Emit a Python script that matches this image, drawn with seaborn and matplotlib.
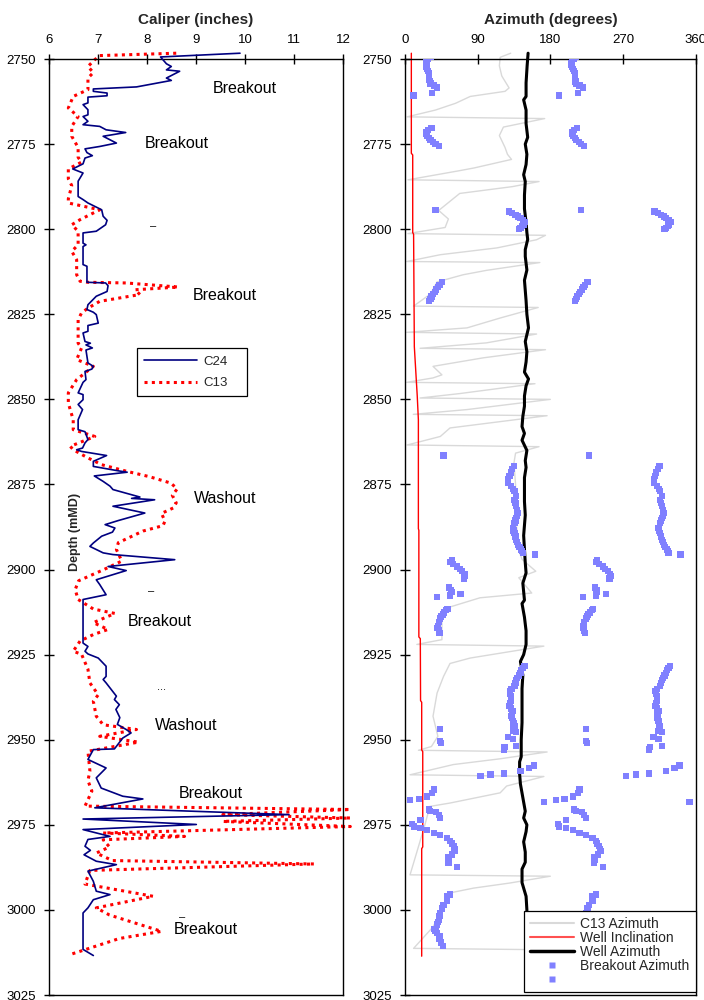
import matplotlib
matplotlib.use("Agg")
import matplotlib.pyplot as plt
import seaborn as sns
import pandas as pd
from matplotlib.lines import Line2D

# ---------------- data ----------------
c24_depth = [
    2748.3, 2749.4, 2751.4, 2752.2, 2753.2, 2753.6, 2755.6, 2756.3, 2758.2, 2758.8,
    2759.5, 2760.0, 2760.8, 2761.2, 2762.9, 2763.4, 2764.9, 2766.4, 2766.9, 2768.3,
    2769.3, 2769.8, 2770.8, 2771.6, 2772.7, 2774.7, 2775.7, 2776.4, 2777.5, 2778.4,
    2779.1, 2780.8, 2782.3, 2783.5, 2785.9, 2790.4, 2791.3, 2792.3, 2794.3, 2796.2,
    2797.4, 2798.7, 2800.6, 2801.1, 2804.1, 2804.6, 2805.1, 2810.4, 2810.9, 2814.8,
    2815.6, 2815.8, 2816.6, 2818.3, 2819.7, 2822.2, 2823.6, 2824.4, 2825.1, 2827.6,
    2828.3, 2830.0, 2830.5, 2833.0, 2833.5, 2834.0, 2834.9, 2835.5, 2839.3, 2840.3,
    2841.1, 2841.8, 2844.2, 2845.0, 2848.1, 2848.6, 2850.1, 2851.5, 2853.0, 2856.0,
    2858.9, 2859.5, 2861.8, 2862.8, 2864.3, 2864.8, 2865.3, 2866.5, 2868.2, 2869.7,
    2871.0, 2871.4, 2872.5, 2874.1, 2875.5, 2876.5, 2878.7, 2879.1, 2879.5, 2881.4,
    2883.4, 2885.6, 2886.8, 2887.8, 2889.0, 2890.2, 2892.2, 2893.2, 2895.1, 2895.6,
    2897.1, 2899.1, 2900.3, 2901.5, 2903.0, 2904.4, 2907.4, 2908.8, 2921.6, 2922.6,
    2924.0, 2924.8, 2926.0, 2928.4, 2931.4, 2932.3, 2933.3, 2937.2, 2938.2, 2939.7,
    2941.1, 2943.5, 2945.5, 2947.0, 2948.0, 2949.5, 2952.7, 2952.9, 2955.8, 2958.3,
    2961.2, 2964.2, 2966.6, 2967.4, 2970.0, 2972.0, 2973.3, 2974.9, 2976.4, 2978.4,
    2979.3, 2981.3, 2982.5, 2983.8, 2985.7, 2986.7, 2988.6, 2991.6, 2994.5, 2995.5,
    2997.0, 2999.4, 3000.9, 3011.6, 3013.4]
c24_cal = [
    9.90, 8.28, 8.40, 8.50, 8.40, 8.67, 8.40, 8.50, 7.79, 6.91,
    6.91, 7.19, 7.19, 6.80, 6.80, 6.70, 6.80, 6.80, 6.70, 6.80,
    6.70, 7.04, 7.17, 7.57, 7.11, 7.38, 7.04, 6.74, 6.78, 6.89,
    6.74, 6.70, 6.49, 6.70, 6.60, 6.60, 6.70, 6.80, 7.08, 7.11,
    7.19, 7.16, 6.97, 6.70, 6.70, 6.76, 6.70, 6.70, 6.78, 6.78,
    6.78, 7.16, 7.21, 7.19, 6.97, 6.80, 6.78, 6.91, 6.97, 7.01,
    6.80, 6.80, 6.70, 6.74, 6.85, 6.76, 6.89, 6.76, 6.80, 6.91,
    6.88, 6.74, 6.76, 6.70, 6.60, 6.70, 6.70, 6.60, 6.69, 6.60,
    6.60, 6.74, 6.80, 6.74, 6.69, 6.57, 6.67, 7.18, 6.91, 6.91,
    7.42, 7.60, 6.93, 7.11, 7.25, 7.31, 7.86, 7.69, 8.16, 7.31,
    7.96, 7.42, 7.15, 7.35, 7.30, 7.08, 6.91, 6.84, 7.11, 7.31,
    8.57, 7.21, 7.58, 7.31, 6.97, 7.04, 7.17, 6.70, 6.70, 6.80,
    6.74, 6.80, 7.01, 7.17, 7.17, 7.11, 7.17, 7.38, 7.34, 7.44,
    7.37, 7.45, 7.40, 7.58, 7.68, 7.51, 7.34, 6.91, 6.80, 7.17,
    6.97, 7.07, 7.51, 7.92, 6.94, 10.90, 6.70, 9.01, 6.70, 7.25,
    6.80, 6.74, 6.85, 6.72, 6.97, 7.38, 6.80, 6.91, 6.97, 7.25,
    6.91, 6.80, 6.70, 6.70, 6.91]

c13_depth = [
    2748.3, 2749.0, 2750.2, 2752.2, 2754.0, 2755.6, 2759.0, 2761.0, 2764.4, 2766.9,
    2769.8, 2772.7, 2776.0, 2778.9, 2780.3, 2782.3, 2785.2, 2787.2, 2791.1, 2792.3,
    2794.3, 2797.2, 2798.7, 2800.6, 2804.6, 2806.5, 2809.0, 2813.4, 2815.3, 2815.6,
    2815.8, 2817.0, 2817.8, 2819.2, 2821.2, 2823.2, 2824.6, 2826.6, 2833.5, 2834.9,
    2838.3, 2840.3, 2844.2, 2848.1, 2851.1, 2856.0, 2858.9, 2860.9, 2863.8, 2864.8,
    2867.2, 2869.2, 2871.1, 2872.7, 2874.6, 2876.3, 2878.2, 2880.4, 2881.9, 2883.5,
    2885.8, 2887.1, 2888.7, 2892.1, 2894.1, 2897.5, 2900.1, 2903.3, 2905.9, 2908.8,
    2911.6, 2912.9, 2915.6, 2917.6, 2919.1, 2921.0, 2924.0, 2924.9, 2929.3, 2933.3,
    2936.8, 2938.7, 2943.1, 2945.6, 2947.0, 2949.0, 2950.7, 2953.4, 2959.2, 2962.0,
    2965.1, 2969.5, 2970.5, 2972.0, 2973.0, 2974.0, 2975.5, 2977.4, 2978.4, 2979.4,
    2981.5, 2983.3, 2985.5, 2986.5, 2988.4, 2992.4, 2996.0, 2999.4, 3001.5, 3006.3,
    3008.4, 3013.1]
c13_cal = [
    8.60, 7.04, 6.94, 6.80, 6.91, 6.80, 6.80, 6.50, 6.40, 6.60,
    6.47, 6.47, 6.60, 6.60, 6.67, 6.40, 6.40, 6.47, 6.40, 6.40,
    7.04, 6.64, 6.47, 6.60, 6.60, 6.47, 6.57, 6.57, 6.64, 6.80,
    7.58, 8.64, 7.76, 7.86, 7.04, 6.80, 6.67, 6.60, 6.60, 6.67,
    6.57, 6.91, 6.57, 6.40, 6.40, 6.50, 6.50, 6.94, 6.44, 6.50,
    6.80, 7.08, 7.58, 8.05, 8.49, 8.62, 8.52, 8.60, 8.54, 8.30,
    8.37, 8.33, 7.92, 7.42, 7.38, 7.49, 7.11, 6.61, 6.54, 6.60,
    6.91, 7.35, 6.91, 7.21, 6.91, 6.64, 6.50, 6.67, 6.80, 6.84,
    7.01, 6.91, 6.97, 7.11, 7.79, 7.04, 7.83, 6.80, 6.84, 6.80,
    6.88, 6.74, 12.15, 9.55, 12.15, 9.55, 12.15, 7.11, 8.77, 7.11,
    7.24, 6.97, 7.30, 11.41, 6.84, 6.74, 8.13, 6.97, 7.24, 8.30,
    7.44, 6.44]

wi_depth = [2748.3, 2777.7, 2778.2, 2801.0, 2801.5, 2834.5, 2843.0, 2849.0, 2856.0, 2888.0,
            2888.5, 2919.8, 2920.3, 2938.5, 2939.0, 2953.0, 2953.5, 2981.5, 2982.0, 3013.6]
wi_deg = [8.2, 8.2, 9.9, 9.9, 11.0, 11.9, 14.0, 15.5, 16.9, 16.9,
          17.5, 17.5, 19.3, 19.6, 21.0, 21.0, 22.3, 22.3, 21.0, 21.0]

wa_depth = [
    2748.3, 2752.0, 2757.0, 2761.0, 2762.0, 2765.0, 2769.0, 2773.0, 2775.0, 2778.0,
    2781.0, 2784.0, 2786.0, 2790.0, 2794.0, 2798.0, 2801.0, 2803.0, 2806.0, 2808.0,
    2812.0, 2815.0, 2818.0, 2821.0, 2825.0, 2829.0, 2833.0, 2836.0, 2839.0, 2842.0,
    2844.0, 2846.0, 2849.0, 2852.0, 2855.0, 2858.0, 2860.0, 2862.0, 2865.0, 2868.0,
    2870.0, 2873.0, 2877.0, 2880.0, 2884.0, 2890.0, 2894.0, 2898.0, 2901.0, 2904.0,
    2909.0, 2910.0, 2914.0, 2918.0, 2922.0, 2925.0, 2927.0, 2931.0, 2935.0, 2940.0,
    2945.0, 2950.0, 2955.0, 2956.5, 2960.0, 2963.0, 2967.0, 2971.0, 2973.0, 2975.0,
    2977.0, 2980.0, 2983.0, 2986.0, 2988.0, 2992.0, 2996.0, 3000.0, 3005.0, 3010.0,
    3013.6]
wa_deg = [
    152.5, 151.3, 150.0, 150.0, 147.0, 150.0, 150.0, 152.0, 149.0, 151.0,
    150.0, 147.0, 149.0, 148.0, 148.0, 150.0, 151.0, 152.0, 149.0, 149.0,
    151.0, 148.0, 149.0, 150.0, 151.0, 153.0, 149.0, 151.0, 150.0, 148.0,
    153.0, 150.0, 148.0, 148.0, 146.0, 145.0, 148.0, 145.0, 151.0, 149.0,
    150.0, 148.0, 148.0, 148.0, 149.0, 147.0, 148.0, 149.0, 150.0, 146.0,
    148.0, 145.0, 148.0, 150.0, 150.0, 147.0, 143.0, 146.0, 145.0, 145.0,
    145.0, 144.0, 144.0, 142.0, 142.0, 143.0, 146.0, 149.0, 147.0, 151.0,
    150.0, 147.0, 149.0, 149.0, 145.0, 145.0, 150.0, 151.0, 151.0, 150.0,
    150.0]

ga_depth = [
    2748.3, 2749.5, 2752.0, 2755.0, 2758.5, 2759.5, 2761.0, 2763.0, 2765.0, 2767.0,
    2767.5, 2770.0, 2772.5, 2776.0, 2778.0, 2779.5, 2782.0, 2782.8, 2785.5, 2786.0,
    2787.5, 2789.5, 2794.5, 2797.0, 2799.5, 2801.3, 2801.8, 2803.1, 2805.5, 2807.5,
    2809.5, 2809.8, 2812.1, 2813.4, 2815.5, 2819.0, 2822.6, 2823.0, 2826.1, 2829.0,
    2830.3, 2830.8, 2833.4, 2835.0, 2835.4, 2837.8, 2840.3, 2842.8, 2843.7, 2845.0,
    2845.4, 2848.3, 2849.6, 2850.0, 2853.0, 2854.4, 2854.8, 2858.4, 2860.9, 2862.8,
    2863.4, 2863.9, 2865.8, 2868.7, 2875.0, 2885.0, 2895.0, 2897.0, 2900.5, 2902.4,
    2906.9, 2908.3, 2911.0, 2913.0, 2920.6, 2922.0, 2922.5, 2926.0, 2927.6, 2931.4,
    2936.3, 2943.1, 2949.0, 2952.0, 2953.1, 2953.6, 2955.6, 2957.3, 2960.3, 2960.8,
    2963.6, 2965.6, 2968.6, 2969.6, 2975.0, 2983.0, 2989.7, 2990.1, 2992.1, 2993.6,
    2995.0, 2998.9, 3005.0, 3011.3, 3011.7, 3013.1]
ga_deg = [
    131, 118, 117, 120, 129, 124, 81, 63, 38, 3,
    173, 122, 117, 124, 127, 132, 86, 68, 4, 166,
    133, 68, 42, 54, 50, 4, 174, 163, 114, 44,
    2.5, 167, 101, 72, 40, 32, 11, 165, 118, 77,
    2.5, 163, 101, 19, 174, 97, 35, 46, 35, 2.5,
    161, 68, 19, 180, 77, 10.6, 176, 56, 44, 13,
    3, 166, 137, 135, 137, 137, 142, 145, 162, 141,
    157, 93, 56, 46, 46, 15, 172, 81, 56, 48,
    40, 35, 41, 33, 17, 176, 118, 60, 6.6, 172,
    126, 118, 56, 31, 25, 15, 6.6, 180, 130, 85,
    56, 48, 35, 11, 170, 160]

bo_depth = [
    2748.8, 2749.4, 2750.0, 2750.6, 2751.2, 2751.8, 2752.4, 2753.0, 2753.6, 2754.2,
    2754.8, 2755.4, 2756.0, 2756.6, 2757.2, 2757.8, 2758.4, 2760.0, 2760.7, 2770.2,
    2770.8, 2771.4, 2772.0, 2772.6, 2773.2, 2773.8, 2774.4, 2775.0, 2775.6, 2794.3,
    2794.8, 2795.3, 2795.8, 2796.3, 2796.8, 2797.4, 2798.0, 2798.6, 2799.1, 2799.6,
    2800.0, 2815.6, 2816.3, 2817.0, 2817.7, 2818.4, 2819.1, 2819.8, 2820.5, 2821.2,
    2866.5, 2869.5, 2870.5, 2871.5, 2872.6, 2873.5, 2874.5, 2875.5, 2876.3, 2877.0,
    2878.4, 2879.5, 2880.5, 2881.4, 2882.4, 2883.4, 2884.2, 2884.9, 2885.6, 2886.3,
    2887.8, 2888.5, 2889.3, 2890.3, 2891.3, 2892.0, 2892.7, 2893.4, 2894.1, 2894.6,
    2895.1, 2895.6, 2897.1, 2897.7, 2898.4, 2899.1, 2899.8, 2900.5, 2901.2, 2902.0,
    2902.6, 2905.3, 2905.9, 2906.6, 2907.1, 2907.6, 2908.0, 2911.5, 2912.0, 2912.6,
    2913.2, 2913.8, 2914.4, 2915.5, 2916.5, 2917.2, 2917.9, 2918.6, 2928.4, 2929.0,
    2929.6, 2930.4, 2931.1, 2931.8, 2932.5, 2933.3, 2934.2, 2935.0, 2935.7, 2936.4,
    2937.1, 2938.0, 2938.6, 2939.3, 2940.0, 2940.8, 2941.5, 2942.2, 2943.0, 2943.7,
    2944.4, 2945.1, 2945.9, 2946.6, 2947.4, 2947.8, 2949.3, 2949.8, 2951.8, 2952.2,
    2946.8, 2950.4, 2951.0, 2952.9, 2957.6, 2958.3, 2959.3, 2959.9, 2960.2, 2960.7,
    2964.6, 2965.6, 2966.7, 2967.5, 2967.8, 2968.4, 2970.5, 2971.0, 2971.2, 2972.2,
    2972.9, 2973.7, 2974.7, 2975.5, 2975.9, 2976.6, 2977.3, 2978.1, 2978.8, 2979.8,
    2980.5, 2981.2, 2982.0, 2982.7, 2983.7, 2984.6, 2985.4, 2986.1, 2987.3, 2995.5,
    2995.9, 2996.6, 2997.4, 2998.5, 2999.6, 3000.9, 3001.9, 3002.9, 3003.6, 3004.3,
    3005.5, 3006.1, 3006.7, 3007.7, 3008.6, 3009.6, 3010.5]
bo_az = [
    36, 32, 29, 27, 26, 26, 27, 28, 29, 30,
    30, 30, 30, 31, 32, 36, 40, 34, 11, 33,
    29, 27, 27, 28, 30, 32, 35, 38, 42, 38,
    128.6, 133, 137, 140, 143, 146, 149, 147, 145, 143,
    141, 46, 43, 41, 39, 37, 35, 33, 32, 30,
    48, 135, 133, 131, 129.5, 128, 128, 131.6, 134, 135.7,
    137.8, 135.7, 137, 137.8, 139, 140, 139, 138, 137, 135.7,
    133.6, 134.5, 135.7, 137, 137.8, 139, 140, 142, 144, 145,
    146, 160.8, 58, 56, 60, 65, 68, 71, 74, 75,
    73, 55, 57, 58, 69, 56, 40, 53, 51, 49,
    47, 45, 44, 42, 41, 40, 42, 43, 148, 146,
    144, 143, 141, 139, 138, 137, 135.7, 132, 130, 130.5,
    131.6, 131.6, 131.6, 130.5, 129.5, 131.5, 133.6, 132.5, 131.6, 132.5,
    133.6, 134.5, 135.7, 134.5, 133.6, 137.8, 127.4, 133.6, 137.8, 123.3,
    44, 44, 45, 122.4, 159.5, 153.3, 143, 122.4, 106, 93.6,
    36, 34, 27.8, 17.5, 7, 172, 29.7, 31.5, 39, 42,
    44, 19.4, 9, 11.1, 19.4, 27.6, 36, 44, 52.2, 56.4,
    58, 60.5, 61.5, 62.6, 58.5, 54, 55, 54, 64.6, 56.4,
    52, 52, 52, 48, 46, 44, 43, 42, 41, 40,
    36, 38, 40, 44, 42, 45.3, 47]
# the opposite breakout (180 degrees apart)
bo_az_opp = [a + 180 for a in bo_az]

notes_text = ["Breakout", "Breakout", "Breakout", "Washout", "Breakout", "Washout", "Breakout", "Breakout"]
notes_cal = [9.99, 8.61, 9.59, 9.59, 8.27, 8.80, 9.30, 9.20]
notes_depth = [2758.7, 2774.9, 2819.5, 2879.0, 2915.2, 2945.8, 2965.9, 3005.8]

marks_text = ["\u2013", "\u2013", "...", "\u2013"]
marks_cal = [8.13, 8.09, 8.30, 8.72]
marks_depth = [2799.0, 2906.4, 2934.5, 3002.0]

depth_ticks = list(range(2750, 3026, 25))
cal_ticks = [6, 7, 8, 9, 10, 11, 12]
az_ticks = [0, 90, 180, 270, 360]

# ---------------- style ----------------
sns.set_theme(style="white")
plt.rcParams["font.family"] = ["Liberation Sans", "DejaVu Sans"]

fig = plt.figure(figsize=(7.04, 10), dpi=100)
ax1 = fig.add_axes([48.7 / 704, 0.005, 294.3 / 704, 0.936])
ax2 = fig.add_axes([404.7 / 704, 0.005, 291.3 / 704, 0.936])

navy = "#000080"
red = "#FF0000"
blue = "#8080FF"
gray = "#D9D9D9"

# ---------------- left panel ----------------
sns.lineplot(x=c13_cal, y=c13_depth, sort=False, estimator=None, ax=ax1,
             color=red, lw=2.2, linestyle=(0, (1, 1.4)), zorder=2)
sns.lineplot(x=c24_cal, y=c24_depth, sort=False, estimator=None, ax=ax1,
             color=navy, lw=1.2, zorder=3)
for ln in ax1.lines:
    ln.set_clip_on(False)

for t, x, y in zip(notes_text, notes_cal, notes_depth):
    ax1.text(x, y, t, fontsize=11.5, ha="center", va="center", color="black")
for t, x, y in zip(marks_text, marks_cal, marks_depth):
    ax1.text(x, y, t, fontsize=8, ha="center", va="center", color="black")

ax1.set_xlim(6, 12)
ax1.set_xticks(cal_ticks)
ax1.set_xlabel("Caliper (inches)", fontsize=11, fontweight="bold", labelpad=7)

h1 = [Line2D([], [], color=navy, lw=1.2),
      Line2D([], [], color=red, lw=2.2, linestyle=(0, (1, 1.4)))]
leg1 = ax1.legend(h1, ["C24", "C13"], loc="upper left",
                  bbox_to_anchor=(0.30, 0.60, 0.374, 0.091), mode="expand",
                  frameon=True, fancybox=False, edgecolor="black", framealpha=1,
                  fontsize=9.5, handlelength=4.0, handletextpad=0.5, borderpad=0.55,
                  labelspacing=0.7, borderaxespad=0)
leg1.get_frame().set_linewidth(0.9)

# ---------------- right panel ----------------
sns.lineplot(x=ga_deg, y=ga_depth, sort=False, estimator=None, ax=ax2,
             color=gray, lw=1.0, zorder=2)
sns.lineplot(x=wi_deg, y=wi_depth, sort=False, estimator=None, ax=ax2,
             color=red, lw=1.0, zorder=2.1)
sns.lineplot(x=wa_deg, y=wa_depth, sort=False, estimator=None, ax=ax2,
             color="black", lw=2.2, zorder=2.2)
for ln in ax2.lines:
    ln.set_clip_on(False)
bo_df = pd.DataFrame({"az": bo_az + bo_az_opp, "depth": bo_depth + bo_depth})
sns.scatterplot(data=bo_df, x="az", y="depth", marker="s", s=20, color=blue,
                edgecolor="none", linewidth=0, ax=ax2, zorder=3)

ax2.set_xlim(0, 360)
ax2.set_xticks(az_ticks)
ax2.set_xlabel("Azimuth (degrees)", fontsize=11, fontweight="bold", labelpad=7)
ax2.set_ylabel("")

h2 = [Line2D([], [], color=gray, lw=1.5),
      Line2D([], [], color="#FF5050", lw=1.5),
      Line2D([], [], color="black", lw=2.5),
      Line2D([], [], color=blue, marker="s", ls="none", ms=4.5, mec="none"),
      Line2D([], [], color=blue, marker="s", ls="none", ms=4.5, mec="none")]
leg2 = ax2.legend(h2, ["C13 Azimuth", "Well Inclination", "Well Azimuth", "Breakout Azimuth", " "],
                  loc="lower right", bbox_to_anchor=(0.41, 0.003, 0.59, 0.0835), mode="expand",
                  frameon=True, fancybox=False,
                  edgecolor="black", framealpha=1, fontsize=10, handlelength=3.2,
                  handletextpad=0.4, borderpad=0.4, labelspacing=0.0, borderaxespad=0)
leg2.get_frame().set_linewidth(0.9)
leg2.set_zorder(10)

# ---------------- common axes styling ----------------
for ax in (ax1, ax2):
    ax.set_ylim(3025, 2750)
    ax.set_yticks(depth_ticks)
    ax.set_ylabel("")
    ax.xaxis.tick_top()
    ax.xaxis.set_label_position("top")
    ax.tick_params(axis="both", which="major", direction="inout", length=7, width=1,
                   colors="black", labelsize=9.5, top=True, bottom=False, left=True,
                   right=False, pad=6)
    ax.grid(False)
    for s in ax.spines.values():
        s.set_color("black")
        s.set_linewidth(1.0)
        s.set_visible(True)

fig.text(75 / 704, 1 - 532 / 1000, "Depth (mMD)", rotation=90, fontsize=9,
         fontweight="bold", ha="center", va="center")

fig.savefig("out.png", dpi=100)
